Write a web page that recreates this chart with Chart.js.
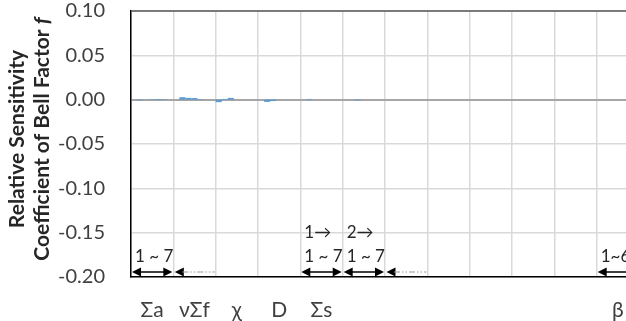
<!DOCTYPE html>
<html>
<head>
<meta charset="utf-8">
<script src="https://cdn.jsdelivr.net/npm/chart.js@4.4.0/dist/chart.umd.min.js"></script>
<style>
body{margin:0;overflow:hidden;background:#fff}
#wrap{width:640px;height:321px}
</style>
</head>
<body>
<div id="wrap"><canvas id="sens_chart" width="640" height="321"></canvas></div>
<script>
// group names shown under the axis (one per group of 7 bars)
var groupNames = ['Σa', 'νΣf', 'χ', 'D', 'Σs', '', '', '', '', '', '', 'β'];

// relative sensitivity per energy group
var sigA   = [0, -0.0008, 0, 0.0005, 0.0008, 0.0006, 0];
var nuSigF = [0, 0.0028, 0.0020, 0.0018, 0.0006, 0, 0];
var chi    = [-0.0028, 0.0008, 0.0020, 0, 0, 0, 0];
var diffD  = [0, -0.0025, -0.0016, 0, 0, 0, 0];
var sigS1  = [0, 0.0008, 0, 0, 0, 0, 0];
var sigS2  = [0, 0, -0.0008, 0, 0, 0, 0];
var sigS3  = [0, 0, 0, 0, 0, 0, 0];
var sigS4  = [0, 0, 0, 0, 0, 0, 0];
var sigS5  = [0, 0, 0, 0, 0, 0, 0];
var sigS6  = [0, 0, 0, 0, 0, 0, 0];
var sigS7  = [0, 0, 0, 0, 0, 0, 0];
var beta   = [0, 0, 0, 0, 0, 0, null];   // 6 delayed groups, last slot empty

var yMin = -0.20, yMax = 0.10, yStep = 0.05;

// text + arrows drawn inside the plot, per group
var notes = [
    {group: 0, lines: ['1 ~ 7'], arrow: 'both'},
    {group: 1, lines: [], arrow: 'dash'},
    {group: 4, lines: ['1→', '1 ~ 7'], arrow: 'both'},
    {group: 5, lines: ['2→', '1 ~ 7'], arrow: 'both'},
    {group: 6, lines: [], arrow: 'dash'},
    {group: 11, lines: ['1~6'], arrow: 'both'}
];

var allGroups = [sigA, nuSigF, chi, diffD, sigS1, sigS2, sigS3, sigS4, sigS5, sigS6, sigS7, beta];
var labels = [], values = [];
allGroups.forEach(function (g, gi) {
    g.forEach(function (v, i) {
        labels.push(gi + '-' + (i + 1));
        values.push(v);
    });
});

var FONT = 'Lato';
Chart.defaults.font.family = FONT;

function head(ctx, x, y, dir) {
    ctx.beginPath();
    ctx.moveTo(x, y);
    ctx.lineTo(x - dir * 9, y - 4.5);
    ctx.lineTo(x - dir * 9, y + 4.5);
    ctx.closePath();
    ctx.fill();
}

var extras = {
    id: 'extras',
    afterDatasetsDraw: function (chart) {
        var ctx = chart.ctx, a = chart.chartArea, xs = chart.scales.x;
        var slot = (xs.right - xs.left) / labels.length;
        ctx.save();
        // top border
        ctx.strokeStyle = '#595959';
        ctx.lineWidth = 1.5;
        ctx.beginPath();
        ctx.moveTo(a.left, a.top);
        ctx.lineTo(a.right, a.top);
        ctx.stroke();

        ctx.font = '17px ' + FONT;
        ctx.textBaseline = 'middle';
        ctx.textAlign = 'left';
        notes.forEach(function (n) {
            var l = xs.left + n.group * 7 * slot;
            var r = l + 7 * slot;
            var ay = a.bottom - 5;
            ctx.fillStyle = '#262626';
            n.lines.forEach(function (t, i) {
                var yy = a.bottom - 20 - (n.lines.length - 1 - i) * 24;
                ctx.fillText(t, l + 4, yy);
            });
            ctx.fillStyle = '#000';
            if (n.arrow === 'both') {
                ctx.strokeStyle = '#000';
                ctx.lineWidth = 1.5;
                ctx.setLineDash([]);
                ctx.beginPath();
                ctx.moveTo(l + 8, ay);
                ctx.lineTo(r - 8, ay);
                ctx.stroke();
                head(ctx, l + 1, ay, -1);
                head(ctx, r - 1, ay, 1);
            } else {
                head(ctx, l + 1.5, ay, -1);
                ctx.strokeStyle = '#9a9a9a';
                ctx.lineWidth = 1.2;
                ctx.setLineDash([6, 2, 1.5, 2, 1.5, 2]);
                ctx.beginPath();
                ctx.moveTo(l + 9, ay);
                ctx.lineTo(r - 1, ay);
                ctx.stroke();
                ctx.setLineDash([]);
            }
        });
        ctx.restore();
    },
    afterDraw: function (chart) {
        // rotated two-line axis title, italic f on the second line
        var ctx = chart.ctx;
        ctx.save();
        ctx.fillStyle = '#262626';
        ctx.textBaseline = 'middle';
        ctx.translate(0, 139);
        ctx.rotate(-Math.PI / 2);
        ctx.font = 'bold 21px ' + FONT;
        ctx.textAlign = 'center';
        ctx.fillText('Relative Sensitivity', 0, 17);
        var p1 = 'Coefficient of Bell Factor ';
        var w1 = ctx.measureText(p1).width;
        ctx.font = 'italic bold 21px ' + FONT;
        var w2 = ctx.measureText('f').width;
        ctx.textAlign = 'left';
        ctx.font = 'bold 21px ' + FONT;
        ctx.fillText(p1, -(w1 + w2) / 2, 42);
        ctx.font = 'italic bold 21px ' + FONT;
        ctx.fillText('f', -(w1 + w2) / 2 + w1, 42);
        ctx.restore();
    }
};

var chx = document.getElementById('sens_chart');
var sChart = new Chart(chx, {
    type: 'bar',
    data: {
        labels: labels,
        datasets: [{
            data: values,
            backgroundColor: '#5b9bd5',
            borderWidth: 0,
            inflateAmount: 0,
            barPercentage: 1,
            categoryPercentage: 1
        }]
    },
    plugins: [extras],
    options: {
        responsive: false,
        animation: false,
        layout: {padding: {top: 11, right: 1, left: 0, bottom: 0}},
        plugins: {legend: {display: false}, tooltip: {enabled: false}},
        scales: {
            x: {
                grid: {
                    offset: true,
                    drawTicks: false,
                    lineWidth: 1.5,
                    color: function (c) { return c.index % 7 === 0 ? '#d9d9d9' : 'rgba(0,0,0,0)'; }
                },
                border: {color: '#000', width: 1.5},
                ticks: {
                    autoSkip: false,
                    maxRotation: 0,
                    padding: 21,
                    color: '#404040',
                    font: {size: 21},
                    callback: function (v, i) { return i % 7 === 3 ? groupNames[Math.floor(i / 7)] : ''; }
                },
                afterFit: function (s) { s.height = 44; s.paddingLeft = 0; s.paddingRight = 0; }
            },
            y: {
                min: yMin,
                max: yMax,
                grid: {
                    drawTicks: false,
                    lineWidth: function (c) { return Math.abs(c.tick.value) < 1e-9 ? 2 : 1.5; },
                    color: function (c) { return Math.abs(c.tick.value) < 1e-9 ? '#a6a6a6' : '#d9d9d9'; }
                },
                border: {color: '#000', width: 1.5},
                ticks: {
                    stepSize: yStep,
                    padding: 26,
                    color: '#404040',
                    font: {size: 20},
                    callback: function (v) { return Math.abs(v) < 1e-9 ? '0.00' : v.toFixed(2); }
                },
                afterFit: function (s) { s.width = 131; s.paddingTop = 0; s.paddingBottom = 0; }
            }
        }
    }
});
</script>
</body>
</html>
